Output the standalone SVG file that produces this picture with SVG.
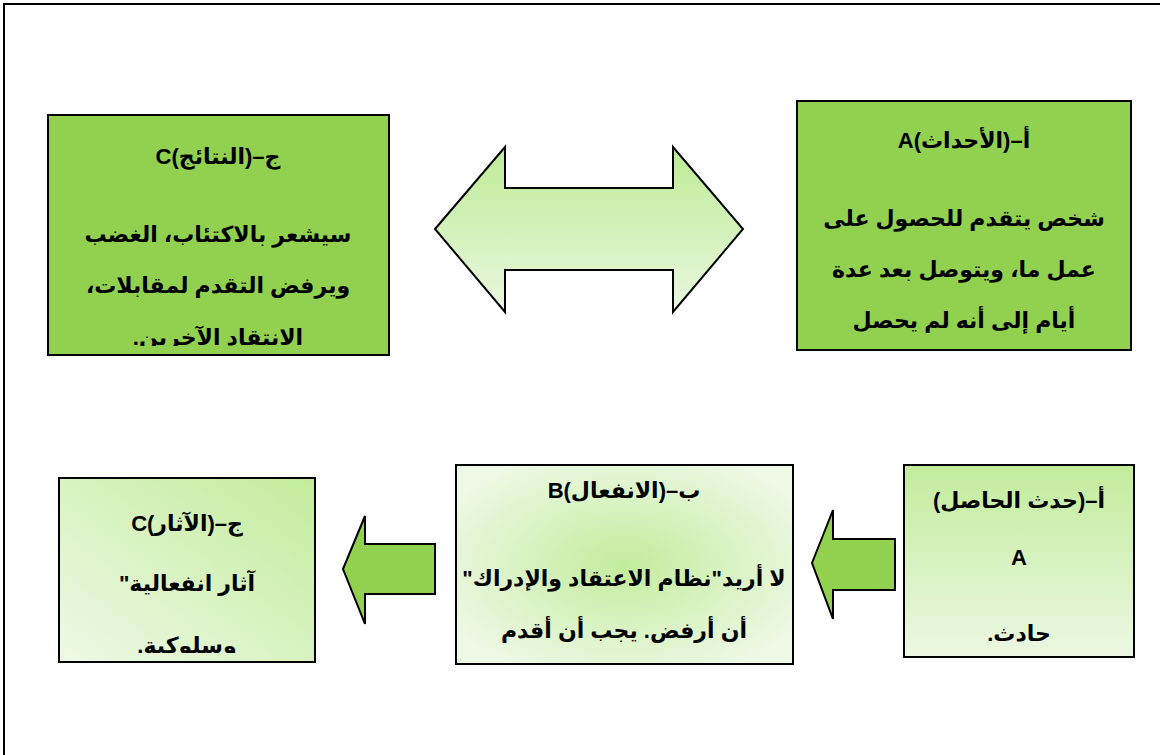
<svg xmlns="http://www.w3.org/2000/svg" width="1160" height="755" viewBox="0 0 1160 755">
<style>
  .box{stroke:#000;stroke-width:2}
  .solid{fill:#92D050}
  .arrow{stroke:#000;stroke-width:2;stroke-linejoin:miter}
  text{font-family:"Liberation Sans","DejaVu Sans",sans-serif;font-weight:bold;font-size:22px;fill:#000;text-anchor:middle;direction:rtl}
</style>
<defs>
  <linearGradient id="gVert" x1="0" y1="0" x2="0" y2="1">
    <stop offset="0" stop-color="#c2ec9c"/>
    <stop offset="1" stop-color="#ecf8e3"/>
  </linearGradient>
  <linearGradient id="gDiag" x1="1" y1="0" x2="0" y2="1">
    <stop offset="0" stop-color="#c2ec9c"/>
    <stop offset="1" stop-color="#eef9e6"/>
  </linearGradient>
  <radialGradient id="gRad" cx="0.5" cy="0.5" r="0.6">
    <stop offset="0" stop-color="#c2ec9c"/>
    <stop offset="1" stop-color="#eef9e6"/>
  </radialGradient>
  <linearGradient id="gArrow" x1="0" y1="0" x2="0" y2="1">
    <stop offset="0" stop-color="#bdeb96"/>
    <stop offset="1" stop-color="#eaf8e0"/>
  </linearGradient>
  <clipPath id="clipC1"><rect x="49" y="116" width="340" height="230"/></clipPath>
  <clipPath id="clipC2"><rect x="60" y="479" width="254" height="174"/></clipPath>
</defs>

<rect x="4" y="4" width="1170" height="760" fill="none" stroke="#000" stroke-width="2"/>

<g id="connectors">
  <polygon class="arrow" fill="url(#gArrow)" points="435,229 505,147 505,188 673,188 673,147 743,229 673,312 673,270 505,270 505,312"/>
  <polygon class="arrow solid" points="343,569 365,516 365,544 435,544 435,594 365,594 365,624"/>
  <polygon class="arrow solid" points="812,563 833,510 833,539 895,539 895,590 833,590 833,619"/>
</g>

<g id="nodeC1">
  <rect class="box solid" x="48" y="115" width="341" height="240"/>
  <g clip-path="url(#clipC1)">
    <text x="218" y="164">ج–(النتائج)C</text>
    <text x="218" y="242">سيشعر بالاكتئاب، الغضب</text>
    <text x="218" y="293">ويرفض التقدم لمقابلات،</text>
    <text x="218" y="345">الانتقاد الآخرين.</text>
  </g>
</g>

<g id="nodeA1">
  <rect class="box solid" x="797" y="101" width="334" height="249"/>
  <text x="964" y="148">أ–(الأحداث)A</text>
  <text x="964" y="226">شخص يتقدم للحصول على</text>
  <text x="964" y="277">عمل ما، ويتوصل بعد عدة</text>
  <text x="964" y="328">أيام إلى أنه لم يحصل</text>
</g>

<g id="nodeA2">
  <rect class="box" fill="url(#gVert)" x="904" y="465" width="230" height="192"/>
  <text x="1019" y="508">أ–(حدث الحاصل)</text>
  <text x="1019" y="565">A</text>
  <text x="1019" y="641">حادث.</text>
</g>

<g id="nodeB">
  <rect class="box" fill="url(#gRad)" x="456" y="465" width="337" height="199"/>
  <text x="624" y="498">ب–(الانفعال)B</text>
  <text x="624" y="586">لا أريد"نظام الاعتقاد والإدراك"</text>
  <text x="624" y="638">أن أرفض. يجب أن أقدم</text>
</g>

<g id="nodeC2">
  <rect class="box" fill="url(#gDiag)" x="59" y="478" width="256" height="184"/>
  <g clip-path="url(#clipC2)">
    <text x="187" y="531">ج–(الآثار)C</text>
    <text x="187" y="591">آثار انفعالية"</text>
    <text x="187" y="653">وسلوكية.</text>
  </g>
</g>
</svg>
